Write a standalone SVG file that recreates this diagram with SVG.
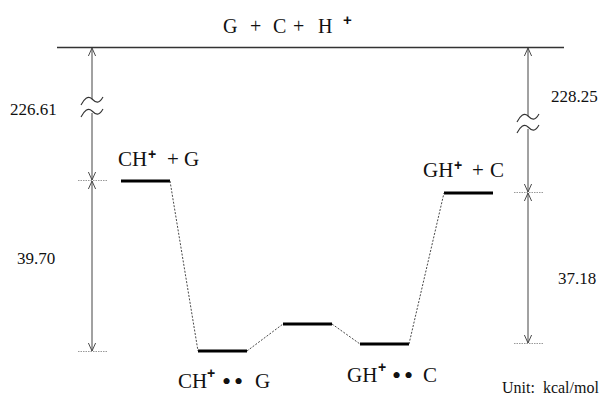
<svg xmlns="http://www.w3.org/2000/svg" width="606" height="398" viewBox="0 0 606 398">
<defs>
<marker id="ah" viewBox="0 0 10 10" refX="10" refY="5" markerWidth="8" markerHeight="8" markerUnits="userSpaceOnUse" orient="auto-start-reverse">
<path d="M0,0.5 L10,5 L0,9.5" fill="none" stroke="#444" stroke-width="1.2"/>
</marker>
<style>
.bar{stroke:#000;stroke-width:3;fill:none;}
.dash{stroke:#333;stroke-width:0.9;stroke-dasharray:2 1.5;fill:none;}
.arr{stroke:#444;stroke-width:1;fill:none;}
.tick{stroke:#999;stroke-width:1;stroke-dasharray:1.5 1;fill:none;}
.sq{stroke:#333;stroke-width:1.1;fill:none;}
</style>
</defs>
<rect width="606" height="398" fill="#fff"/>

<g id="top-level">
<line x1="57" y1="47.5" x2="564" y2="47.5" stroke="#333" stroke-width="1.3"/>
<text font-family="Liberation Serif" font-size="20" fill="#111" y="33"><tspan x="223">G</tspan><tspan x="250">+</tspan><tspan x="273">C</tspan><tspan x="293">+</tspan><tspan x="318">H</tspan></text>
<text font-family="Liberation Sans" font-weight="bold" font-size="15" fill="#111" x="343" y="25">+</text>
</g>

<g id="node-CHG">
<line class="bar" x1="121" y1="181" x2="170" y2="181"/>
<text font-family="Liberation Serif" font-size="21" fill="#111" y="166"><tspan x="118">CH</tspan><tspan x="167">+</tspan><tspan x="184">G</tspan></text>
<text font-family="Liberation Sans" font-weight="bold" font-size="14" fill="#111" x="148" y="159">+</text>
</g>

<g id="node-CH-G-complex">
<line class="bar" x1="198" y1="351" x2="247" y2="351"/>
<text font-family="Liberation Serif" font-size="21" fill="#111" y="388"><tspan x="178">CH</tspan><tspan x="255">G</tspan></text>
<text font-family="Liberation Serif" font-size="26" fill="#111" y="390"><tspan x="222">•</tspan><tspan x="234">•</tspan></text>
<text font-family="Liberation Sans" font-weight="bold" font-size="14" fill="#111" x="207" y="378">+</text>
</g>

<g id="node-TS">
<line class="bar" x1="283" y1="324" x2="332" y2="324"/>
</g>

<g id="node-GH-C-complex">
<line class="bar" x1="360" y1="344" x2="409" y2="344"/>
<text font-family="Liberation Serif" font-size="21" fill="#111" y="382"><tspan x="347">GH</tspan><tspan x="423">C</tspan></text>
<text font-family="Liberation Serif" font-size="26" fill="#111" y="384"><tspan x="392">•</tspan><tspan x="404">•</tspan></text>
<text font-family="Liberation Sans" font-weight="bold" font-size="14" fill="#111" x="378" y="372">+</text>
</g>

<g id="node-GHC">
<line class="bar" x1="444" y1="193" x2="493" y2="193"/>
<text font-family="Liberation Serif" font-size="21" fill="#111" y="177"><tspan x="423">GH</tspan><tspan x="472">+</tspan><tspan x="490">C</tspan></text>
<text font-family="Liberation Sans" font-weight="bold" font-size="14" fill="#111" x="454" y="170">+</text>
</g>

<g id="connectors">
<path class="dash" d="M170,181 L198,351"/>
<path class="dash" d="M247,351 L283,324"/>
<path class="dash" d="M332,324 L360,344"/>
<path class="dash" d="M409,344 L444,193"/>
</g>

<g id="left-scale">
<line class="tick" x1="78" y1="180.5" x2="107" y2="180.5"/>
<line class="tick" x1="78" y1="351.5" x2="107" y2="351.5"/>
<line class="arr" x1="92" y1="48" x2="92" y2="99" marker-start="url(#ah)"/>
<path class="sq" d="M81,105 C84,99 88,95 92,99 S99,104 103,97"/>
<path class="sq" d="M81,117 C84,111 88,107 92,111 S99,116 103,109"/>
<line class="arr" x1="92" y1="113" x2="92" y2="180" marker-end="url(#ah)"/>
<line class="arr" x1="92" y1="181" x2="92" y2="351" marker-start="url(#ah)" marker-end="url(#ah)"/>
<text font-family="Liberation Serif" font-size="17" fill="#111" x="10" y="115">226.61</text>
<text font-family="Liberation Serif" font-size="17" fill="#111" x="17" y="264">39.70</text>
</g>

<g id="right-scale">
<line class="tick" x1="514" y1="192.5" x2="543" y2="192.5"/>
<line class="tick" x1="514" y1="343.5" x2="543" y2="343.5"/>
<line class="arr" x1="528" y1="48" x2="528" y2="116" marker-start="url(#ah)"/>
<path class="sq" d="M517,122 C520,116 524,112 528,116 S535,121 539,114"/>
<path class="sq" d="M517,133 C520,127 524,123 528,127 S535,132 539,125"/>
<line class="arr" x1="528" y1="129" x2="528" y2="192" marker-end="url(#ah)"/>
<line class="arr" x1="528" y1="193" x2="528" y2="343" marker-start="url(#ah)" marker-end="url(#ah)"/>
<text font-family="Liberation Serif" font-size="17" fill="#111" x="551" y="102">228.25</text>
<text font-family="Liberation Serif" font-size="17" fill="#111" x="558" y="284">37.18</text>
</g>

<text font-family="Liberation Serif" font-size="16" fill="#111" x="502" y="393" xml:space="preserve">Unit:  kcal/mol</text>
</svg>
